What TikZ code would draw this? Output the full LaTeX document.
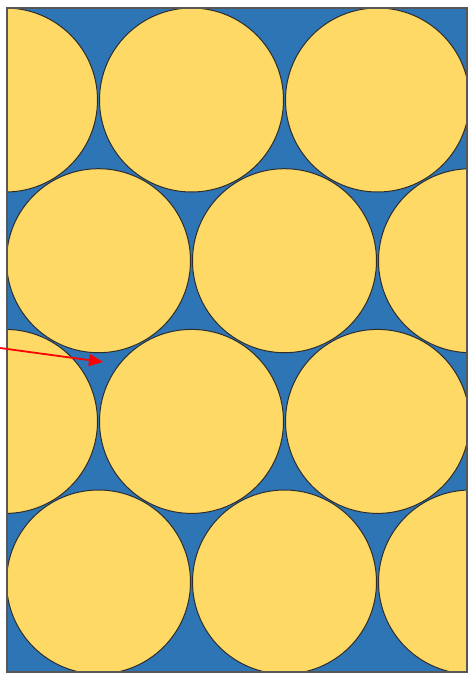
\documentclass[tikz,border=0pt]{standalone}
\usepackage{tikz}
\usetikzlibrary{shapes,arrows,arrows.meta,positioning}
\definecolor{water}{RGB}{46,117,182}
\definecolor{grain}{RGB}{255,217,102}
\definecolor{edge}{RGB}{45,45,45}

\begin{document}
\begin{tikzpicture}[x=1pt,y=-1pt]
\useasboundingbox (0,0) rectangle (468,673);
% packed grains in a box
\fill[water] (7,8) rectangle (467,672);
\begin{scope}
\clip (7,8) rectangle (467,672);
\foreach \cy/\xo in {100/5.5, 260.7/98.5, 421.4/5.5, 582/98.5}
  \foreach \k in {0,1,2}
    \draw[edge,line width=1pt,fill=grain] (\xo+186*\k,\cy) circle (92);
\end{scope}
\draw[edge!80,line width=1.2pt] (7,8) rectangle (467,672);
\coordinate (tail) at (0,348);
\coordinate (pore) at (103,362);
\draw[red,line width=1.8pt,-{Triangle[length=14pt,width=12pt]}] (tail) -- (pore);
\end{tikzpicture}
\end{document}
